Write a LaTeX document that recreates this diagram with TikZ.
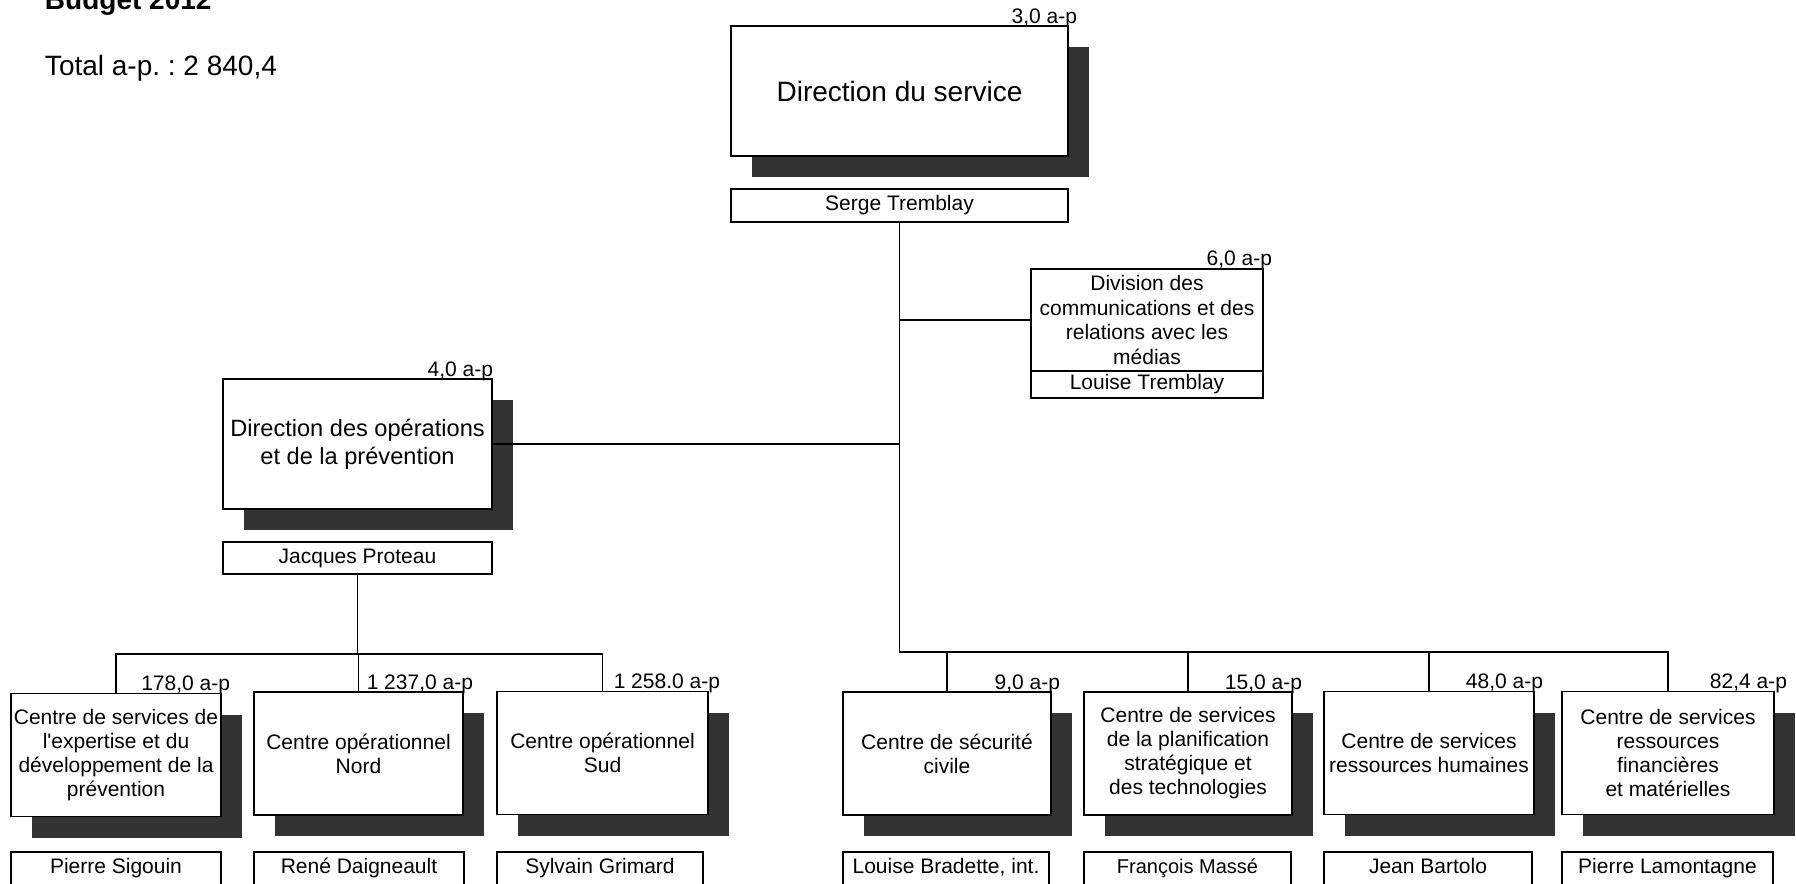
\documentclass[tikz,border=0pt]{standalone}
\usepackage{fontspec}
\setmainfont{Liberation Sans}
\usetikzlibrary{shadows}
\definecolor{shade}{HTML}{333333}
\frenchspacing
\begin{document}
\begin{tikzpicture}[x=0.5pt,y=-0.5pt,
  every node/.style={inner sep=0pt, outer sep=0pt, font=\fontsize{10.5}{12}\selectfont},
  conn/.style={line width=0.9pt},
  boxbase/.style={draw, fill=white, line width=0.9pt, rectangle, align=center},
  shadowed/.style={boxbase, drop shadow={shadow xshift=10.5pt, shadow yshift=-10.5pt, fill=shade, opacity=1}},
  unit/.style={shadowed, minimum height=61.5pt},
  namebox/.style={boxbase, anchor=north, text height=10.5pt, text depth=9.5pt},
  headname/.style={boxbase, minimum height=16.5pt},
  aplabel/.style={anchor=base east, font=\fontsize{10.5}{12}\selectfont}
]
\useasboundingbox (0,0) rectangle (1796,884);

% titles
\node[anchor=base west, font=\fontsize{14}{16}\selectfont\bfseries] (title) at (45,9) {Budget 2012};
\node[anchor=base west, font=\fontsize{14}{16}\selectfont] (total) at (45,75) {Total a-p. : 2 840,4};

% top
\node[shadowed, minimum width=168.5pt, minimum height=65pt, font=\fontsize{14}{16}\selectfont] (ds) at (899.5,91) {Direction du service};
\node[headname, minimum width=168.5pt] (serge) at (899.5,205.5) {Serge Tremblay};
\node[aplabel] (lds) at ([shift={(9,-3)}]ds.north east) {3,0 a-p};

% division
\node[boxbase, minimum width=116pt, minimum height=51pt, font=\fontsize{10.5}{12.3}\selectfont] (div) at (1147,320) {Division des\\communications et des\\relations avec les\\médias};
\node[boxbase, minimum width=116pt, minimum height=13.5pt] (divn) at (1147,384.5) {Louise Tremblay};
\node[aplabel] (ldiv) at ([shift={(9,-4)}]div.north east) {6,0 a-p};

% operations
\node[shadowed, minimum width=134.5pt, minimum height=65pt, font=\fontsize{11.8}{14}\selectfont] (dop) at (357.5,444) {Direction des opérations\\et de la prévention};
\node[boxbase, minimum width=134.5pt, minimum height=16pt] (jp) at (357.5,558) {Jacques Proteau};
\node[aplabel] (ldop) at ([shift={(1,-3)}]dop.north east) {4,0 a-p};

% bottom units
\node[unit, minimum width=105pt] (b1) at (116,755) {Centre de services de\\l\textquotesingle expertise et du\\développement de la\\prévention};
\node[unit, minimum width=104.5pt] (b2) at (358.5,753.5) {Centre opérationnel\\Nord};
\node[unit, minimum width=105.5pt] (b3) at (602.5,753) {Centre opérationnel\\Sud};
\node[unit, minimum width=104pt] (b4) at (947,753.5) {Centre de sécurité\\civile};
\node[unit, minimum width=104pt] (b5) at (1188,753.5) {Centre de services\\de la planification\\stratégique et\\des technologies};
\node[unit, minimum width=105pt] (b6) at (1429,753) {Centre de services\\ressources humaines};
\node[unit, minimum width=106pt] (b7) at (1668,753) {Centre de services\\ressources\\financières\\et matérielles};

\node[aplabel] (l1) at ([shift={(9,-3)}]b1.north east) {178,0 a-p};
\node[aplabel] (l2) at ([shift={(10,-3)}]b2.north east) {1 237,0 a-p};
\node[aplabel] (l3) at ([shift={(12,-3)}]b3.north east) {1 258.0 a-p};
\node[aplabel] (l4) at ([shift={(9,-3)}]b4.north east) {9,0 a-p};
\node[aplabel] (l5) at ([shift={(10,-3)}]b5.north east) {15,0 a-p};
\node[aplabel] (l6) at ([shift={(9,-3)}]b6.north east) {48,0 a-p};
\node[aplabel] (l7) at ([shift={(13,-3)}]b7.north east) {82,4 a-p};

% name boxes
\node[namebox, minimum width=105pt] (n1) at (116,852) {Pierre Sigouin};
\node[namebox, minimum width=105pt] (n2) at (359,852) {René Daigneault};
\node[namebox, minimum width=103pt] (n3) at (600,852) {Sylvain Grimard};
\node[namebox, minimum width=103pt] (n4) at (946,852) {Louise Bradette, int.};
\node[namebox, minimum width=103.5pt, font=\fontsize{10}{12}\selectfont] (n5) at (1187.5,852) {François Massé};
\node[namebox, minimum width=104pt] (n6) at (1428,852) {Jean Bartolo};
\node[namebox, minimum width=105.5pt] (n7) at (1667.5,852) {Pierre Lamontagne};

% connectors
\coordinate (rbus) at (899.5,652);
\coordinate (lbus) at (358,654);
\draw[conn] (serge.south) -- (rbus) -- (rbus -| b7.north) -- (b7.north);
\draw[conn] (div.west) -- (serge.south |- div.west);
\draw[conn] (dop.east) -- (serge.south |- dop.east);
\draw[conn] (b4.north) -- (b4.north |- rbus);
\draw[conn] (b5.north) -- (b5.north |- rbus);
\draw[conn] (b6.north) -- (b6.north |- rbus);
\draw[conn] (jp.south) -- (jp.south |- lbus);
\draw[conn] (b1.north) -- (b1.north |- lbus) -- (b3.north |- lbus) -- (b3.north);
\draw[conn] (b2.north) -- (b2.north |- lbus);
\end{tikzpicture}
\end{document}
